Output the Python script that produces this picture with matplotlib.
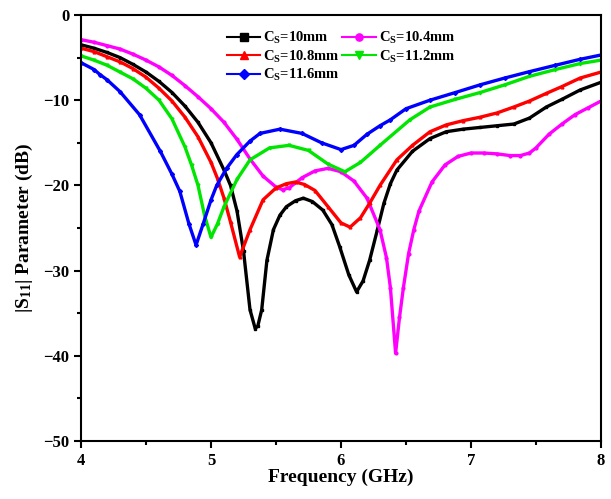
import numpy as np
import matplotlib
matplotlib.use('Agg')
import matplotlib.pyplot as plt
from matplotlib.ticker import MultipleLocator

plt.rcParams['font.family'] = 'Liberation Serif'
plt.rcParams['font.weight'] = 'bold'
plt.rcParams['mathtext.fontset'] = 'custom'
plt.rcParams['mathtext.rm'] = 'Liberation Serif:bold'
plt.rcParams['mathtext.bf'] = 'Liberation Serif:bold'
plt.rcParams['mathtext.it'] = 'Liberation Serif:bold'

# S11 curves for each slot length Cs (frequency in GHz, S11 in dB)
f_10 = [4.0, 4.1, 4.2, 4.3, 4.4, 4.5, 4.6, 4.7, 4.8, 4.9, 5.0, 5.1, 5.15, 5.2, 5.25,
        5.3, 5.34, 5.36, 5.39, 5.43, 5.48, 5.53, 5.58, 5.65, 5.71, 5.78, 5.86, 5.93,
        5.99, 6.06, 6.12, 6.17, 6.22, 6.28, 6.33, 6.38, 6.43, 6.55, 6.685, 6.81, 6.94,
        7.07, 7.2, 7.33, 7.45, 7.58, 7.7, 7.84, 8.0]
s_10 = [-3.5, -3.9, -4.4, -5.0, -5.8, -6.7, -7.8, -9.1, -10.7, -12.6, -15.0, -18.2, -20.0,
        -23.0, -27.7, -34.6, -36.8, -36.5, -34.6, -28.8, -25.2, -23.5, -22.5, -21.8, -21.5,
        -21.9, -22.9, -24.6, -27.2, -30.5, -32.5, -31.2, -28.8, -25.2, -22.1, -19.8, -18.2,
        -16.0, -14.5, -13.7, -13.4, -13.2, -13.0, -12.8, -12.1, -10.8, -9.9, -8.8, -7.9]

f_104 = [4.0, 4.1, 4.2, 4.3, 4.4, 4.5, 4.6, 4.7, 4.8, 4.9, 5.0, 5.1, 5.2, 5.3, 5.4, 5.5,
         5.55, 5.6, 5.7, 5.8, 5.9, 6.0, 6.1, 6.2, 6.3, 6.35, 6.38, 6.42, 6.45, 6.48, 6.52,
         6.56, 6.6, 6.7, 6.8, 6.9, 7.0, 7.1, 7.2, 7.3, 7.38, 7.45, 7.5, 7.6, 7.7, 7.8,
         7.9, 8.0]
s_104 = [-2.9, -3.2, -3.6, -4.0, -4.6, -5.3, -6.1, -7.1, -8.3, -9.6, -11.0, -12.6, -14.6,
         -16.9, -18.9, -20.2, -20.5, -20.3, -19.1, -18.3, -18.0, -18.4, -19.5, -21.5, -25.2,
         -28.5, -32.0, -39.7, -35.5, -32.0, -28.0, -25.2, -23.0, -19.6, -17.6, -16.6, -16.2,
         -16.2, -16.3, -16.5, -16.5, -16.2, -15.6, -14.0, -12.8, -11.7, -10.9, -10.1]

f_108 = [4.0, 4.1, 4.2, 4.3, 4.4, 4.5, 4.6, 4.7, 4.8, 4.9, 5.0, 5.05, 5.1, 5.15, 5.22,
         5.3, 5.4, 5.5, 5.58, 5.65, 5.72, 5.8, 5.9, 6.0, 6.07, 6.15, 6.22, 6.3, 6.43, 6.55,
         6.685, 6.81, 6.94, 7.07, 7.2, 7.33, 7.45, 7.58, 7.7, 7.84, 8.0]
s_108 = [-3.9, -4.3, -4.9, -5.5, -6.3, -7.3, -8.6, -10.1, -12.0, -14.3, -17.3, -19.2, -21.5,
         -24.3, -28.4, -25.2, -21.7, -20.3, -19.8, -19.6, -19.9, -20.6, -22.5, -24.4, -24.9,
         -23.8, -22.1, -20.0, -17.0, -15.3, -13.7, -12.9, -12.4, -12.0, -11.5, -10.8, -10.1,
         -9.2, -8.4, -7.4, -6.7]

f_112 = [4.0, 4.1, 4.2, 4.3, 4.4, 4.5, 4.6, 4.7, 4.8, 4.85, 4.9, 4.95, 5.0, 5.05, 5.1,
         5.2, 5.3, 5.45, 5.6, 5.75, 5.9, 6.03, 6.15, 6.3, 6.53, 6.685, 6.88, 7.07, 7.26,
         7.45, 7.65, 7.84, 8.0]
s_112 = [-4.8, -5.3, -5.9, -6.7, -7.5, -8.6, -10.0, -12.2, -15.5, -17.6, -20.0, -23.5,
         -26.1, -24.5, -22.5, -19.3, -17.0, -15.6, -15.3, -15.9, -17.5, -18.4, -17.3, -15.3,
         -12.3, -10.8, -9.9, -9.1, -8.2, -7.2, -6.4, -5.7, -5.3]

f_116 = [4.0, 4.1, 4.146, 4.2, 4.3, 4.45, 4.61, 4.7, 4.76, 4.83, 4.885, 4.94, 5.0, 5.044,
         5.12, 5.198, 5.3, 5.377, 5.53, 5.7, 5.85, 6.0, 6.1, 6.2, 6.3, 6.38, 6.5, 6.685,
         6.88, 7.07, 7.26, 7.45, 7.65, 7.84, 8.0]
s_116 = [-5.6, -6.4, -7.0, -7.6, -9.0, -11.7, -16.0, -18.7, -20.7, -24.5, -27.0, -24.5,
         -21.7, -20.0, -18.0, -16.4, -14.8, -13.9, -13.4, -13.9, -15.0, -15.8, -15.3, -14.0,
         -13.0, -12.3, -11.0, -10.0, -9.1, -8.2, -7.4, -6.65, -5.9, -5.2, -4.7]

labels = [r'C$_{\rm S}$=10mm', r'C$_{\rm S}$=10.4mm', r'C$_{\rm S}$=10.8mm',
          r'C$_{\rm S}$=11.2mm', r'C$_{\rm S}$=11.6mm']
colors = ['black', '#ff00ff', '#ff0000', '#00e600', '#0000ff']
markers = ['s', 'o', '^', 'v', 'D']
freqs = [f_10, f_104, f_108, f_112, f_116]
s11 = [s_10, s_104, s_108, s_112, s_116]

fig = plt.figure(figsize=(6.11, 4.99), dpi=100)
ax = fig.add_axes([0.1326, 0.1162, 0.851, 0.8538])

lines = []
for f, s, c, m, lab in zip(freqs, s11, colors, markers, labels):
    ln, = ax.plot(f, s, color=c, marker=m, markersize=2.0, linewidth=2.4, label=lab)
    lines.append(ln)

ax.set_xlim(4, 8)
ax.set_ylim(-50, 0)
ax.xaxis.set_major_locator(MultipleLocator(1))
ax.xaxis.set_minor_locator(MultipleLocator(0.5))
ax.yaxis.set_major_locator(MultipleLocator(10))
ax.yaxis.set_minor_locator(MultipleLocator(5))
ax.tick_params(which='both', direction='out', width=1.5, labelsize=12, top=False, right=False)
ax.tick_params(which='major', length=5)
ax.tick_params(which='minor', length=3)
for sp in ax.spines.values():
    sp.set_linewidth(1.5)

ax.set_xlabel('Frequency (GHz)', fontsize=14, fontweight='bold', labelpad=0)
ax.set_ylabel(r'|S$_{11}$| Parameter (dB)', fontsize=14, fontweight='bold', labelpad=6)

# legend laid out row by row in two columns
order = [0, 2, 4, 1, 3]
leg = ax.legend([lines[i] for i in order], [labels[i] for i in order], ncol=2,
                loc='upper left', bbox_to_anchor=(0.255, 0.995), frameon=False,
                fontsize=10.5, handlelength=2.3, handletextpad=0.2, columnspacing=0.15,
                labelspacing=0.15, markerscale=2.6)
for h in leg.legend_handles:
    h.set_linewidth(1.5)

fig.savefig('out.png', dpi=100)
